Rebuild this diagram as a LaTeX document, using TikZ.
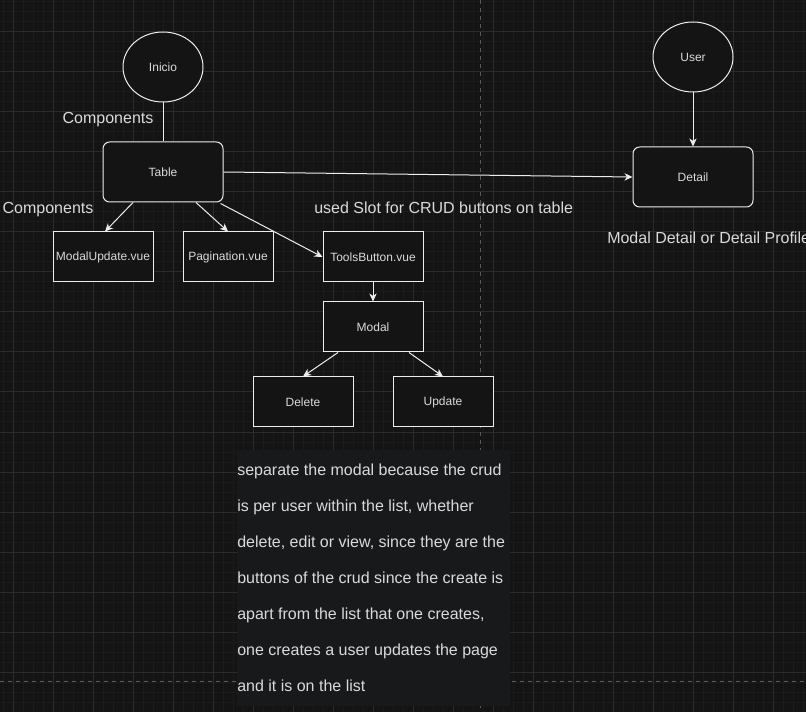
\documentclass[tikz,border=0pt]{standalone}
\usepackage{fontspec}
\setmainfont{Liberation Sans}
\usetikzlibrary{arrows.meta,shapes.geometric,calc}

\definecolor{bgc}{HTML}{141414}
\definecolor{gridminor}{HTML}{1B1B1B}
\definecolor{gridmajor}{HTML}{2B2B2B}
\definecolor{boxfill}{HTML}{18191B}
\definecolor{linec}{HTML}{EDEDED}
\definecolor{textc}{HTML}{DADADA}
\definecolor{dashc}{HTML}{5A5A5A}

\begin{document}
\begin{tikzpicture}
        [x=0.75pt,y=-0.75pt,
         every node/.style={text=textc,font=\fontsize{9}{11}\selectfont},
         round/.style={ellipse,draw=linec,fill=bgc,line width=0.75pt,minimum width=60pt,minimum height=52.5pt,inner sep=0pt},
         roundbox/.style={rectangle,rounded corners=5pt,draw=linec,fill=bgc,line width=0.75pt,minimum width=90pt,minimum height=45pt,inner sep=0pt},
         plainbox/.style={rectangle,draw=linec,fill=bgc,line width=0.75pt,minimum width=75pt,minimum height=37.5pt,inner sep=0pt},
         note/.style={font=\fontsize{12}{14}\selectfont,inner sep=0pt},
         link/.style={draw=linec,line width=0.75pt,-{Stealth[length=6pt,width=5.5pt,inset=1.8pt]}}]
        \clip (0,0) rectangle (806,712);
        \useasboundingbox (0,0) rectangle (806,712);
        \fill[bgc] (0,0) rectangle (806,712);

        % grid
        \foreach \i in {3,13,...,803}
        {\draw[gridminor,line width=0.75pt] (\i,0) -- (\i,712);}
        \foreach \i in {2,12,...,712}
        {\draw[gridminor,line width=0.75pt] (0,\i) -- (806,\i);}
        \foreach \i in {13,53,...,793}
        {\draw[gridmajor,line width=0.75pt] (\i,0) -- (\i,712);}
        \foreach \i in {32,72,...,712}
        {\draw[gridmajor,line width=0.75pt] (0,\i) -- (806,\i);}

        \draw[dashc,dashed,line width=0.75pt] (480,0) -- (480,712);
        \draw[dashc,dashed,line width=0.75pt] (0,681) -- (806,681);

        \node[round] (inicio) at (163,67) {Inicio};
        \node[round] (user) at (693,57) {User};
        \node[roundbox] (table) at (163,172) {Table};
        \node[roundbox] (detail) at (693,177) {Detail};

        \node[plainbox] (modalupd) at (103,257) {ModalUpdate.vue};
        \node[plainbox,minimum width=67.5pt] (pagination) at (228,257) {Pagination.vue};
        \node[plainbox] (tools) at (373,257) {ToolsButton.vue};
        \node[plainbox] (modal) at (373,327) {Modal};
        \node[plainbox] (delete) at (303,402) {Delete};
        \node[plainbox] (update) at (443,402) {Update};

        \node[note] (comp1) at (108,120) {Components};
        \node[note] (comp2) at (48,210) {Components};
        \node[note,anchor=west] (slot) at (314,208) {used Slot for CRUD buttons on table};
        \node[note,anchor=west] (profile) at (607,238) {Modal Detail or Detail Profile};

        \draw[draw=linec,line width=0.75pt] (inicio) -- (table);
        \draw[link] ($(table.south)+(-30,0)$) -- ($(modalupd.north)+(2,0)$);
        \draw[link] ($(table.south)+(33,0)$) -- (pagination.north);
        \draw[link] ($(table.south east)+(-3,1)$) -- (tools.west);
        \draw[link] (table.east) -- (detail.west);
        \draw[link] (user) -- (detail);
        \draw[link] (tools) -- (modal);
        \draw[link] ($(modal.south)+(-35,0)$) -- (delete.north);
        \draw[link] ($(modal.south)+(36,0)$) -- (update.north);

        \fill[boxfill] (237,450) rectangle (510,706);
        \node[note,anchor=north west,align=left,font=\fontsize{12}{27}\selectfont] (remark) at (237,464)
        {separate the modal because the crud\\
         is per user within the list, whether\\
         delete, edit or view, since they are the\\
         buttons of the crud since the create is\\
         apart from the list that one creates,\\
         one creates a user updates the page\\
         and it is on the list};
      \end{tikzpicture}
\end{document}
